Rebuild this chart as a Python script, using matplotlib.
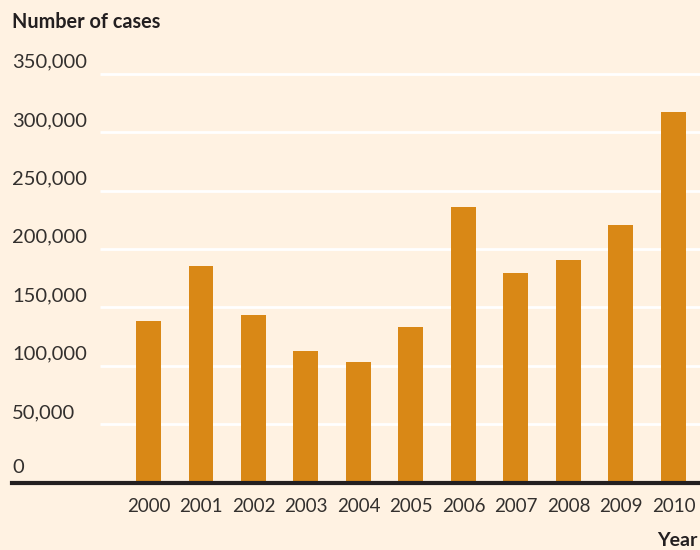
import matplotlib
matplotlib.use("Agg")
import matplotlib.pyplot as plt
from matplotlib.transforms import blended_transform_factory

years = ["2000", "2001", "2002", "2003", "2004", "2005", "2006", "2007", "2008", "2009", "2010"]
cases = [138300, 185400, 143400, 112600, 103200, 133100, 235900, 179400, 190500, 220500, 317200]
yticks = [0, 50000, 100000, 150000, 200000, 250000, 300000, 350000]
ytick_labels = ["0", "50,000", "100,000", "150,000", "200,000", "250,000", "300,000", "350,000"]

BG = "#FFF2E2"
BAR = "#D98816"
DARK = "#231F20"
TXT = "#33302E"

plt.rcParams['font.family'] = ['Lato', 'DejaVu Sans']

fig = plt.figure(figsize=(7, 5.5), dpi=100, facecolor=BG)
ax = fig.add_axes([12/700, 67.5/550, 688/700, (482.5-74)/550])
ax.set_facecolor(BG)

x = list(range(len(years)))
ax.set_xlim(-2.6, 10.505)
ax.set_ylim(0, 350000)

# gridlines
grid_start = (100 - 148.5) / 52.5
for v in yticks[1:]:
    ax.hlines(v, grid_start, 10.505, color="white", lw=2, zorder=1, clip_on=False)

ax.bar(x, cases, width=0.476, color=BAR, zorder=2)
ax.axhline(0, color=DARK, lw=3, zorder=3, clip_on=False)

for s in ax.spines.values():
    s.set_visible(False)

ax.set_yticks([])
ax.set_xticks(x)
ax.set_xticklabels(years, fontsize=13.5, color=TXT)
ax.tick_params(axis='x', length=0, pad=11)

trans = blended_transform_factory(ax.transAxes, ax.transData)
for v, lab in zip(yticks, ytick_labels):
    off = 7 if v == 0 else 4.5
    ax.annotate(lab, xy=(0, v), xycoords=trans, xytext=(0, off), textcoords='offset points',
                ha='left', va='baseline', fontsize=14.5, color=TXT)

fig.text(12/700, 1 - 28/550, "Number of cases", fontsize=14.3, fontweight='bold', color=DARK,
         ha='left', va='baseline')
fig.text(698/700, 1 - 546/550, "Year", fontsize=14, fontweight='bold', color=DARK,
         ha='right', va='baseline')

fig.savefig("out.png", dpi=100, facecolor=BG)
